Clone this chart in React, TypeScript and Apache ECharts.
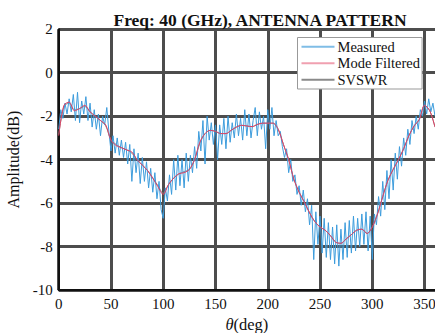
import React, { useEffect, useRef } from "react";
import * as echarts from "echarts";

const titleText = "Freq: 40 (GHz), ANTENNA PATTERN";
const seriesNames = ["Measured", "Mode Filtered", "SVSWR"];

// Measured: sampled every 2 degrees from 0 to 360
const measuredStep = 2;
const measuredValues = [
  -2.6, -1.7, -2.1, -1.4, -1.9, -1.2, -1.8, -1.0, -2.2, -0.9,
  -2.3, -1.3, -1.9, -1.1, -2.2, -1.4, -2.5, -1.7, -2.6, -1.9,
  -2.9, -2.0, -2.4, -1.6, -2.7, -3.6, -2.9, -3.7, -3.0, -3.8,
  -3.1, -3.9, -3.2, -4.2, -3.3, -5.0, -3.5, -4.6, -3.7, -5.1,
  -3.9, -5.0, -4.1, -5.3, -4.4, -5.5, -4.6, -5.8, -5.0, -6.3,
  -6.7, -5.3, -5.9, -4.7, -5.6, -4.0, -5.4, -3.8, -5.2, -4.0,
  -5.3, -3.7, -5.0, -3.8, -4.6, -3.4, -4.4, -2.7, -3.6, -2.2,
  -4.2, -2.0, -3.1, -2.3, -3.3, -2.4, -4.0, -2.4, -3.3, -2.1,
  -3.5, -2.0, -3.2, -2.3, -3.0, -1.9, -2.9, -2.1, -3.1, -1.7,
  -2.9, -1.9, -3.0, -2.2, -1.6, -2.9, -1.8, -2.6, -2.0, -3.5,
  -1.7, -2.6, -1.6, -2.9, -2.2, -2.9, -2.7, -3.4, -3.9, -3.5,
  -4.6, -4.0, -5.0, -4.7, -5.6, -5.2, -6.1, -5.4, -6.4, -5.8,
  -7.0, -6.1, -8.6, -6.4, -7.9, -6.6, -8.3, -6.7, -8.5, -6.9,
  -8.6, -7.1, -8.8, -7.0, -8.9, -7.2, -8.6, -6.9, -8.5, -6.8,
  -8.3, -6.6, -8.2, -6.7, -8.0, -6.5, -7.9, -6.4, -8.2, -6.6,
  -8.6, -6.5, -7.0, -5.7, -6.6, -5.0, -6.3, -4.5, -5.8, -4.0,
  -5.4, -3.7, -4.9, -3.4, -4.3, -3.0, -3.8, -2.6, -3.3, -2.2,
  -2.8, -2.0, -2.6, -1.7, -2.0, -1.3, -1.9, -1.2, -1.8, -1.4,
  -2.0,
];

// Mode filtered: sampled every 5 degrees from 0 to 360
const filteredStep = 5;
const filteredValues = [
  -2.9, -1.5, -1.35, -1.75, -1.65, -1.5, -1.8, -2.0, -2.2, -2.4,
  -3.1, -3.35, -3.45, -3.55, -3.65, -4.0, -4.25, -4.5, -4.85, -5.25,
  -5.6, -5.15, -4.85, -4.65, -4.6, -4.45, -4.0, -3.2, -2.8, -2.65,
  -2.7, -2.8, -2.8, -2.65, -2.5, -2.42, -2.45, -2.48, -2.38, -2.32,
  -2.32, -2.32, -2.6, -3.3, -4.0, -4.9, -5.5, -5.95, -6.45, -6.85,
  -7.1, -7.25, -7.5, -7.8, -7.85, -7.65, -7.45, -7.25, -7.2, -7.4,
  -7.1, -6.5, -5.7, -4.95, -4.45, -4.0, -3.5, -2.9, -2.45, -2.15,
  -1.5, -1.75, -2.5,
];

// SVSWR: lies under the mode-filtered curve, same 5 degree sampling
const svswrValues = [
  -2.85, -1.55, -1.4, -1.7, -1.65, -1.55, -1.8, -2.0, -2.2, -2.45,
  -3.1, -3.3, -3.45, -3.55, -3.7, -4.0, -4.25, -4.5, -4.85, -5.2,
  -5.55, -5.15, -4.85, -4.65, -4.55, -4.45, -4.0, -3.25, -2.8, -2.65,
  -2.7, -2.8, -2.8, -2.65, -2.5, -2.42, -2.45, -2.48, -2.38, -2.32,
  -2.32, -2.32, -2.6, -3.3, -4.0, -4.9, -5.5, -5.95, -6.45, -6.85,
  -7.1, -7.25, -7.5, -7.8, -7.85, -7.65, -7.45, -7.25, -7.2, -7.4,
  -7.1, -6.5, -5.7, -4.95, -4.45, -4.0, -3.5, -2.9, -2.45, -2.15,
  -1.5, -1.75, -2.5,
];

const FONT = "Liberation Serif";

export default function App() {
  const ref = useRef<HTMLDivElement>(null);
  useEffect(() => {
    if (!ref.current) return;
    const chart = echarts.init(ref.current, null, { renderer: "svg" });
    const measured = measuredValues.map((v, i) => [i * measuredStep, v]);
    const filtered = filteredValues.map((v, i) => [i * filteredStep, v]);
    const svswr = svswrValues.map((v, i) => [i * filteredStep, v]);
    const lineStyle = { color: "#4d4d4d", width: 3 };
    chart.setOption({
      animation: false,
      backgroundColor: "#ffffff",
      textStyle: { fontFamily: FONT },
      title: {
        text: titleText,
        left: 255,
        top: 6,
        textAlign: "center",
        textStyle: { fontFamily: FONT, fontWeight: "bold", fontSize: 17.5, color: "#111" },
      },
      legend: {
        data: seriesNames,
        orient: "vertical",
        left: 297.5,
        top: 37.5,
        padding: [1, 2, 1, 4],
        itemGap: 0,
        itemWidth: 33,
        itemHeight: 2,
        icon: "rect",
        backgroundColor: "#ffffff",
        borderColor: "#999",
        borderWidth: 1,
        borderRadius: 0,
        textStyle: { fontFamily: FONT, fontSize: 14.5, color: "#111", lineHeight: 16.5, padding: [0, 0, 0, -2] },
      },
      grid: {
        left: 58.7,
        top: 29.3,
        right: 0,
        bottom: 43,
        containLabel: false,
        outerBoundsMode: "none",
      },
      xAxis: {
        type: "value",
        min: 0,
        max: 360,
        interval: 50,
        axisLine: { show: true, onZero: false, lineStyle: { color: "#111", width: 2 } },
        axisTick: { show: false },
        splitLine: { show: true, showMinLine: true, showMaxLine: false, lineStyle },
        axisLabel: {
          fontFamily: FONT,
          fontSize: 15,
          color: "#111",
          margin: 6,
          hideOverlap: false,
          formatter: (v: number) => (v === 360 ? "" : String(v)),
        },
        name: "{i|θ}(deg)",
        nameLocation: "middle",
        nameGap: 21,
        nameTextStyle: {
          fontFamily: FONT,
          fontSize: 16.5,
          color: "#111",
          rich: { i: { fontFamily: FONT, fontStyle: "italic", fontSize: 16.5, color: "#111" } },
        },
      },
      yAxis: {
        type: "value",
        min: -10,
        max: 2,
        interval: 2,
        axisLine: { show: true, onZero: false, lineStyle: { color: "#111", width: 2 } },
        axisTick: { show: false },
        splitLine: { show: true, showMinLine: true, showMaxLine: true, lineStyle },
        axisLabel: { fontFamily: FONT, fontSize: 15, color: "#111", margin: 6 },
        name: "Amplitude(dB)",
        nameLocation: "middle",
        nameGap: 33,
        nameTextStyle: { fontFamily: FONT, fontSize: 16, color: "#111" },
      },
      series: [
        {
          name: seriesNames[2],
          type: "line",
          data: svswr,
          symbol: "none",
          smooth: 0.3,
          lineStyle: { color: "#8a8a8a", width: 1 },
          itemStyle: { color: "#8a8a8a" },
          z: 2,
        },
        {
          name: seriesNames[0],
          type: "line",
          data: measured,
          symbol: "none",
          lineStyle: { color: "#3d9cdc", width: 1 },
          itemStyle: { color: "#7fbde6" },
          z: 3,
        },
        {
          name: seriesNames[1],
          type: "line",
          data: filtered,
          symbol: "none",
          smooth: 0.3,
          lineStyle: { color: "#de3f62", width: 1 },
          itemStyle: { color: "#f0a0b0" },
          z: 4,
        },
      ],
    });
    return () => chart.dispose();
  }, []);
  return (
    <div
      ref={ref}
      style={{ position: "absolute", left: 0, top: 0, width: 435, height: 333, background: "#fff" }}
    />
  );
}
